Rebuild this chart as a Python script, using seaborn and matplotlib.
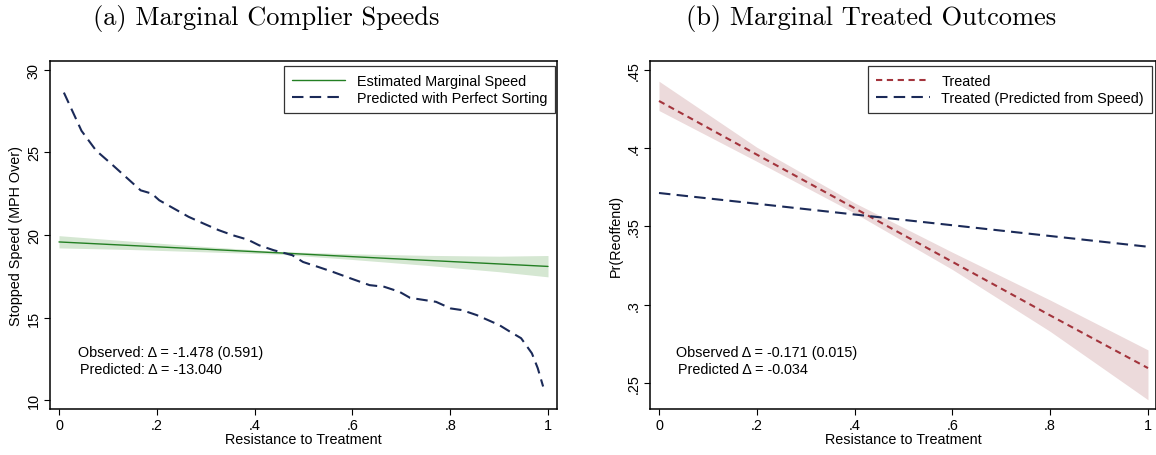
import numpy as np
import pandas as pd
import matplotlib
matplotlib.use("Agg")
import matplotlib.pyplot as plt
import seaborn as sns

# ---------------- data ----------------
# Panel (a): estimated marginal speed (linear) with CI band
speed_x = [0.0, 0.15, 0.3, 0.45, 0.6, 0.75, 0.9, 1.0]
speed_est = [19.58, 19.36, 19.14, 18.92, 18.69, 18.47, 18.25, 18.10]
speed_lo = [19.22, 19.12, 18.98, 18.84, 18.52, 18.17, 17.78, 17.47]
speed_hi = [19.96, 19.62, 19.30, 19.00, 18.86, 18.77, 18.72, 18.76]

# Panel (a): predicted with perfect sorting
sort_x = [0.01, 0.046, 0.076, 0.107, 0.137, 0.167, 0.19, 0.205, 0.235, 0.265,
          0.295, 0.326, 0.356, 0.386, 0.409, 0.439, 0.477, 0.499, 0.53, 0.56,
          0.597, 0.635, 0.665, 0.696, 0.718, 0.749, 0.771, 0.801, 0.824, 0.854,
          0.877, 0.90, 0.922, 0.945, 0.967, 0.979, 0.99]
sort_y = [28.61, 26.3, 25.1, 24.3, 23.5, 22.7, 22.5, 22.1, 21.6, 21.1,
          20.7, 20.3, 19.98, 19.72, 19.38, 19.08, 18.78, 18.37, 18.07, 17.77,
          17.37, 16.97, 16.87, 16.57, 16.2, 16.06, 15.96, 15.56, 15.46, 15.16,
          14.86, 14.56, 14.16, 13.76, 12.85, 11.95, 10.84]

# Panel (b): treated outcomes with CI band
treat_x = [0.0, 0.2, 0.4, 0.6, 0.8, 1.0]
treat_est = [0.430, 0.3958, 0.3616, 0.3274, 0.2932, 0.2596]
treat_lo = [0.4239, 0.3915, 0.3585, 0.3225, 0.2830, 0.2394]
treat_hi = [0.4426, 0.4005, 0.3650, 0.3335, 0.3030, 0.2712]

# Panel (b): treated predicted from speed
pred_x = [0.0, 1.0]
pred_y = [0.3713, 0.3370]

xticks = [0, 0.2, 0.4, 0.6, 0.8, 1.0]
xticklabels = ["0", ".2", ".4", ".6", ".8", "1"]
yticks_a = [10, 15, 20, 25, 30]
yticklabels_a = ["10", "15", "20", "25", "30"]
yticks_b = [0.25, 0.30, 0.35, 0.40, 0.45]
yticklabels_b = [".25", ".3", ".35", ".4", ".45"]

# ---------------- style ----------------
sns.set_theme(style="white")
plt.rcParams["font.family"] = ["Liberation Sans", "DejaVu Sans"]
for k in ["text.color", "axes.labelcolor", "xtick.color", "ytick.color"]:
    plt.rcParams[k] = "black"

GREEN = "#237f23"
GREEN_BAND = "#d5e7d2"
NAVY = "#1b2a58"
MAROON = "#a3343c"
RED_BAND = "#ecdadb"

fig = plt.figure(figsize=(11.56, 4.56), dpi=100)
W, H = 1156, 456
axa = fig.add_axes([50 / W, 46 / H, 507 / W, 348 / H])
axb = fig.add_axes([650 / W, 46 / H, 506 / W, 348 / H])

FS = 10.4

def style_axes(ax):
    for s in ax.spines.values():
        s.set_visible(True)
        s.set_color("black")
        s.set_linewidth(1.1)
    ax.tick_params(axis="both", direction="out", length=4.5, width=0.8,
                   color="black", labelsize=FS, pad=2, bottom=True, left=True)
    ax.grid(False)

def add_legend(ax, right, pad):
    leg = ax.legend(loc="upper right", bbox_to_anchor=(right, 0.9856), frameon=True,
                    fancybox=False, edgecolor="black", fontsize=FS,
                    handlelength=3.7, borderpad=pad, labelspacing=0.2,
                    handletextpad=0.8, borderaxespad=0)
    leg.get_frame().set_linewidth(0.9)
    return leg

# ---- panel (a) ----
axa.fill_between(speed_x, speed_lo, speed_hi, color=GREEN_BAND, lw=0)
dfa1 = pd.DataFrame({"x": speed_x, "y": speed_est})
sns.lineplot(data=dfa1, x="x", y="y", ax=axa, color=GREEN, lw=1.0,
             label="Estimated Marginal Speed")
dfa2 = pd.DataFrame({"x": sort_x, "y": sort_y})
sns.lineplot(data=dfa2, x="x", y="y", ax=axa, color=NAVY, lw=1.5,
             label="Predicted with Perfect Sorting")
axa.lines[-1].set_dashes((5.5, 3.0))
axa.set_xlim(-0.0184, 1.0184)
axa.set_ylim(9.48, 30.52)
axa.set_xticks(xticks)
axa.set_xticklabels(xticklabels)
axa.set_yticks(yticks_a)
axa.set_yticklabels(yticklabels_a, rotation=90, va="center")
axa.set_xlabel("Resistance to Treatment", fontsize=FS, labelpad=0)
axa.set_ylabel("Stopped Speed (MPH Over)", fontsize=FS, labelpad=3)
style_axes(axa)
add_legend(axa, 0.996, 0.55)
axa.text(0.055, 0.164, "Observed: \u0394 = -1.478 (0.591)", transform=axa.transAxes,
         fontsize=FS, va="center", ha="left")
axa.text(0.059, 0.115, "Predicted: \u0394 = -13.040", transform=axa.transAxes,
         fontsize=FS, va="center", ha="left")

# ---- panel (b) ----
axb.fill_between(treat_x, treat_lo, treat_hi, color=RED_BAND, lw=0)
dfb1 = pd.DataFrame({"x": treat_x, "y": treat_est})
sns.lineplot(data=dfb1, x="x", y="y", ax=axb, color=MAROON, lw=1.5,
             label="Treated")
axb.lines[-1].set_dashes((3.0, 2.2))
dfb2 = pd.DataFrame({"x": pred_x, "y": pred_y})
sns.lineplot(data=dfb2, x="x", y="y", ax=axb, color=NAVY, lw=1.5,
             label="Treated (Predicted from Speed)")
axb.lines[-1].set_dashes((5.5, 3.0))
axb.set_xlim(-0.0184, 1.0164)
axb.set_ylim(0.2335, 0.4555)
axb.set_xticks(xticks)
axb.set_xticklabels(xticklabels)
axb.set_yticks(yticks_b)
axb.set_yticklabels(yticklabels_b, rotation=90, va="center")
axb.set_xlabel("Resistance to Treatment", fontsize=FS, labelpad=0)
axb.set_ylabel("Pr(Reoffend)", fontsize=FS, labelpad=3)
style_axes(axb)
add_legend(axb, 0.992, 0.55)
axb.text(0.051, 0.164, "Observed \u0394 = -0.171 (0.015)", transform=axb.transAxes,
         fontsize=FS, va="center", ha="left")
axb.text(0.055, 0.115, "Predicted \u0394 = -0.034", transform=axb.transAxes,
         fontsize=FS, va="center", ha="left")

# ---- titles ----
fig.text(93 / W, 1 - 25 / H, "(a) Marginal Complier Speeds", family="cmr10",
         fontsize=19, ha="left", va="baseline")
fig.text(686 / W, 1 - 25 / H, "(b) Marginal Treated Outcomes", family="cmr10",
         fontsize=19, ha="left", va="baseline")

fig.savefig("out.png", dpi=100)
